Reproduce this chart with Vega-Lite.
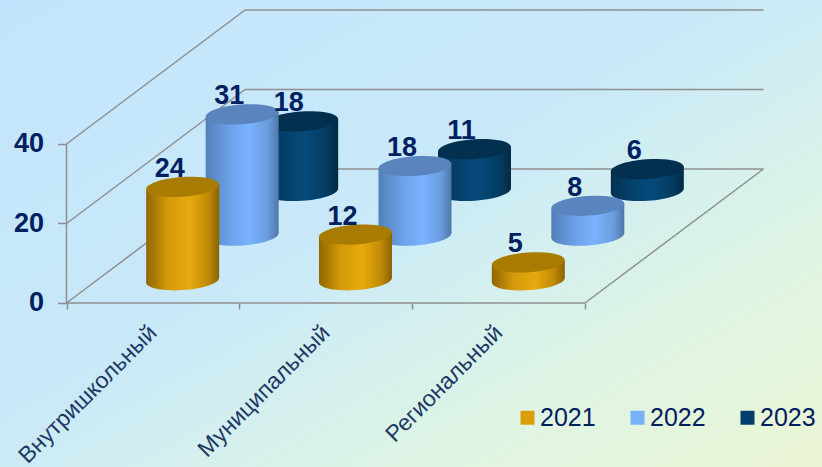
{"$schema":"https://vega.github.io/schema/vega-lite/v6.json","width":822,"height":467,"padding":0,"autosize":"none",
"view":{"stroke":null,"fill":{"gradient":"linear","x1":0,"y1":0,"x2":1,"y2":1,"stops":[{"offset":0,"color":"#c3e4fc"},{"offset":0.45,"color":"#c9e9f9"},{"offset":0.72,"color":"#dcf4e6"},{"offset":1,"color":"#ecf6d4"}]}},
"config":{"font":"Liberation Sans"},
"data":{"values":[
{"category":"Внутришкольный","year":"2021","value":24},{"category":"Внутришкольный","year":"2022","value":31},{"category":"Внутришкольный","year":"2023","value":18},
{"category":"Муниципальный","year":"2021","value":12},{"category":"Муниципальный","year":"2022","value":18},{"category":"Муниципальный","year":"2023","value":11},
{"category":"Региональный","year":"2021","value":5},{"category":"Региональный","year":"2022","value":8},{"category":"Региональный","year":"2023","value":6}]},
"transform":[{"calculate":"indexof(['Внутришкольный','Муниципальный','Региональный'],datum.category)+0.5","as":"c"},{"calculate":"(indexof(['2021','2022','2023'],datum.year)+0.5)/3","as":"d"},{"calculate":"datum.c+datum.d*1.0328","as":"px"},{"calculate":"datum.d*33.71+0.1","as":"base"},{"calculate":"datum.base+datum.value-0.5","as":"top"}],
"encoding":{"x":{"field":"px","type":"quantitative","title":null,"scale":{"domain":[-0.3848,4.3714],"nice":false,"zero":false},
"axis":{"offset":-164,"grid":false,"domain":false,"values":[0,0.5,1,1.5,2,2.5,3],"labelExpr":"datum.value==0.5?'Внутришкольный':datum.value==1.5?'Муниципальный':datum.value==2.5?'Региональный':''","labelAngle":-45,"labelAlign":"right","labelBaseline":"top","labelFontSize":23,"labelColor":"#1f3864","labelPadding":12,"labelOffset":-8,"labelLimit":400,"labelOverlap":false,"labelBound":false,"labelFlush":false,"tickColor":"#8c8c8c","tickWidth":1.5,"tickSize":6,"tickOpacity":{"expr":"datum.value%1==0?1:0"}}},
"y":{"field":"top","type":"quantitative","title":null,"scale":{"domain":[-41.258,76.226],"nice":false,"zero":false},
"axis":{"offset":-66.5,"grid":false,"domain":false,"values":[0,20,40],"labelFontSize":27,"labelFontWeight":"bold","labelColor":"#002060","labelPadding":14,"tickColor":"#8c8c8c","tickWidth":1.5,"tickSize":9}}},
"layer":[
{"data":{"values":[{"c":0,"d":0,"v":0,"c2":0,"d2":0,"v2":40},{"c":0,"d":0,"v":0,"c2":3,"d2":0,"v2":0},{"c":3,"d":0,"v":0,"c2":3,"d2":1,"v2":0},{"c":0,"d":0,"v":0,"c2":0,"d2":1,"v2":0},{"c":0,"d":0,"v":20,"c2":0,"d2":1,"v2":20},{"c":0,"d":0,"v":40,"c2":0,"d2":1,"v2":40},{"c":0,"d":1,"v":0,"c2":3,"d2":1,"v2":0},{"c":0,"d":1,"v":20,"c2":3,"d2":1,"v2":20},{"c":0,"d":1,"v":40,"c2":3,"d2":1,"v2":40}]},
"transform":[{"calculate":"datum.c+datum.d*1.0328","as":"px"},{"calculate":"datum.v+datum.d*33.71","as":"top"},{"calculate":"datum.c2+datum.d2*1.0328","as":"px2"},{"calculate":"datum.v2+datum.d2*33.71","as":"top2"}],
"mark":{"type":"rule","color":"#8f8f8f","strokeWidth":1.5},"encoding":{"x2":{"field":"px2"},"y2":{"field":"top2"}}},
{"transform":[{"filter":"datum.year=='2021'"}],"mark":{"type":"point","filled":true,"size":0,"opacity":1},"encoding":{"color":{"field":"year","type":"nominal","scale":{"domain":["2021","2022","2023"],"range":["#dc9e08","#79b0fa","#043f6b"]},"legend":{"title":null,"orient":"none","legendX":515,"legendY":405,"direction":"horizontal","columns":3,"symbolType":"square","symbolSize":196,"symbolOpacity":1,"labelFontSize":25,"labelColor":"#002060","columnPadding":29,"labelOffset":0,"symbolStrokeWidth":0}}}},
{"transform":[{"filter":"datum.year=='2023'"},{"calculate":"[-1,1]","as":"side"},{"flatten":["side"]},{"calculate":"datum.px+datum.side*0.2112","as":"sx"},{"calculate":"datum.top+datum.side*0.63","as":"sy"},{"calculate":"datum.base+datum.side*0.63","as":"sy2"}],
"mark":{"type":"area","fill":{"gradient":"linear","x1":0,"y1":0,"x2":1,"y2":0,"stops":[{"offset":0,"color":"#03304f"},{"offset":0.3,"color":"#05426d"},{"offset":0.55,"color":"#064a7a"},{"offset":0.85,"color":"#043c62"},{"offset":1,"color":"#022a45"}]}},
"encoding":{"x":{"field":"sx"},"y":{"field":"sy"},"y2":{"field":"sy2"},"detail":{"field":"category"}}},
{"transform":[{"filter":"datum.year=='2023'"}],"mark":{"type":"point","filled":true,"opacity":1,"size":5329,"shape":"M -0.9976 0.07 A 1 0.27 -4 1 1 0.9976 -0.07 A 1 0.27 -4 1 1 -0.9976 0.07 Z","fill":{"gradient":"linear","x1":0,"y1":0,"x2":1,"y2":0,"stops":[{"offset":0,"color":"#03304f"},{"offset":0.3,"color":"#05426d"},{"offset":0.55,"color":"#064a7a"},{"offset":0.85,"color":"#043c62"},{"offset":1,"color":"#022a45"}]}},"encoding":{"y":{"field":"base"}}},
{"transform":[{"filter":"datum.year=='2023'"}],"mark":{"type":"point","filled":true,"opacity":1,"size":5329,"shape":"M -0.9976 0.07 A 1 0.27 -4 1 1 0.9976 -0.07 A 1 0.27 -4 1 1 -0.9976 0.07 Z","fill":"#03304f"}},
{"transform":[{"filter":"datum.year=='2022'"},{"calculate":"[-1,1]","as":"side"},{"flatten":["side"]},{"calculate":"datum.px+datum.side*0.2112","as":"sx"},{"calculate":"datum.top+datum.side*0.63","as":"sy"},{"calculate":"datum.base+datum.side*0.63","as":"sy2"}],
"mark":{"type":"area","fill":{"gradient":"linear","x1":0,"y1":0,"x2":1,"y2":0,"stops":[{"offset":0,"color":"#5280b8"},{"offset":0.35,"color":"#6ea3ea"},{"offset":0.6,"color":"#79b2ff"},{"offset":0.85,"color":"#6a9ddf"},{"offset":1,"color":"#4f77a8"}]}},
"encoding":{"x":{"field":"sx"},"y":{"field":"sy"},"y2":{"field":"sy2"},"detail":{"field":"category"}}},
{"transform":[{"filter":"datum.year=='2022'"}],"mark":{"type":"point","filled":true,"opacity":1,"size":5329,"shape":"M -0.9976 0.07 A 1 0.27 -4 1 1 0.9976 -0.07 A 1 0.27 -4 1 1 -0.9976 0.07 Z","fill":{"gradient":"linear","x1":0,"y1":0,"x2":1,"y2":0,"stops":[{"offset":0,"color":"#5280b8"},{"offset":0.35,"color":"#6ea3ea"},{"offset":0.6,"color":"#79b2ff"},{"offset":0.85,"color":"#6a9ddf"},{"offset":1,"color":"#4f77a8"}]}},"encoding":{"y":{"field":"base"}}},
{"transform":[{"filter":"datum.year=='2022'"}],"mark":{"type":"point","filled":true,"opacity":1,"size":5329,"shape":"M -0.9976 0.07 A 1 0.27 -4 1 1 0.9976 -0.07 A 1 0.27 -4 1 1 -0.9976 0.07 Z","fill":"#5a84bd"}},
{"transform":[{"filter":"datum.year=='2021'"},{"calculate":"[-1,1]","as":"side"},{"flatten":["side"]},{"calculate":"datum.px+datum.side*0.2112","as":"sx"},{"calculate":"datum.top+datum.side*0.63","as":"sy"},{"calculate":"datum.base+datum.side*0.63","as":"sy2"}],
"mark":{"type":"area","fill":{"gradient":"linear","x1":0,"y1":0,"x2":1,"y2":0,"stops":[{"offset":0,"color":"#8f6800"},{"offset":0.3,"color":"#d49a0a"},{"offset":0.6,"color":"#e8a90e"},{"offset":0.85,"color":"#c08a06"},{"offset":1,"color":"#8a6200"}]}},
"encoding":{"x":{"field":"sx"},"y":{"field":"sy"},"y2":{"field":"sy2"},"detail":{"field":"category"}}},
{"transform":[{"filter":"datum.year=='2021'"}],"mark":{"type":"point","filled":true,"opacity":1,"size":5329,"shape":"M -0.9976 0.07 A 1 0.27 -4 1 1 0.9976 -0.07 A 1 0.27 -4 1 1 -0.9976 0.07 Z","fill":{"gradient":"linear","x1":0,"y1":0,"x2":1,"y2":0,"stops":[{"offset":0,"color":"#8f6800"},{"offset":0.3,"color":"#d49a0a"},{"offset":0.6,"color":"#e8a90e"},{"offset":0.85,"color":"#c08a06"},{"offset":1,"color":"#8a6200"}]}},"encoding":{"y":{"field":"base"}}},
{"transform":[{"filter":"datum.year=='2021'"}],"mark":{"type":"point","filled":true,"opacity":1,"size":5329,"shape":"M -0.9976 0.07 A 1 0.27 -4 1 1 0.9976 -0.07 A 1 0.27 -4 1 1 -0.9976 0.07 Z","fill":"#a87c00"}},
{"mark":{"type":"text","fontSize":27,"fontWeight":"bold","color":"#002060","dx":-13,"dy":-18,"align":"center","baseline":"middle"},"encoding":{"text":{"field":"value","type":"quantitative"}}}
]}
